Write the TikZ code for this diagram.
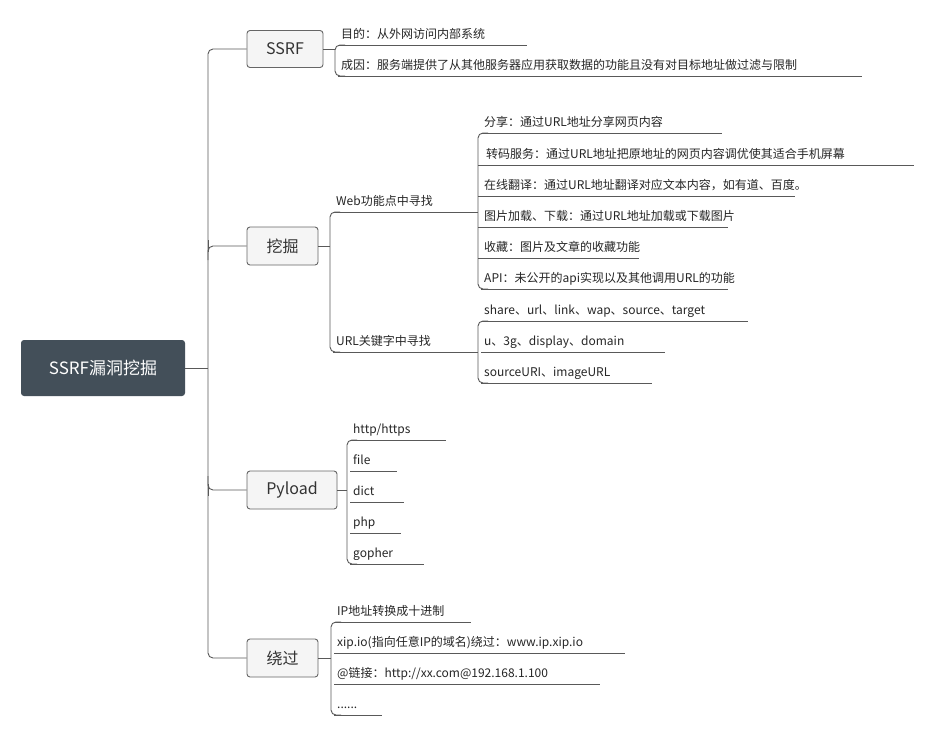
\documentclass[tikz,border=0pt]{standalone}
\usepackage{fontspec}
\setmainfont{Noto Sans CJK SC}
\begin{document}
\begin{tikzpicture}[x=1pt,y=-1pt,
  ln/.style={draw=black!65,line width=0.9pt},
  br/.style={ln,rounded corners=5pt},
  lvone/.style={draw=black!60,fill=black!4,rounded corners=3pt,line width=0.9pt,inner sep=0pt,font=\fontsize{16}{18}\selectfont,text=black!80},
  leaf/.style={anchor=base west,inner sep=0pt,font=\fontsize{12}{14}\selectfont,text=black!85}]
\useasboundingbox[fill=white] (0,0) rectangle (929,737);
% root
\node[fill=black!10!blue!8!black!75,fill={rgb,255:red,67;green,79;blue,89},rounded corners=3pt,minimum width=164pt,minimum height=56pt,text=white,font=\fontsize{17}{20}\selectfont] (root) at (103,368) {SSRF漏洞挖掘};
% level 1
\node[lvone,minimum width=76pt,minimum height=37pt] (ssrf) at (285,49) {SSRF};
\node[lvone,minimum width=71pt,minimum height=38pt] (wj) at (282.5,246) {挖掘};
\node[lvone,minimum width=90pt,minimum height=38pt] (py) at (292,490) {Pyload};
\node[lvone,minimum width=71pt,minimum height=38pt] (rg) at (282.5,658) {绕过};
\coordinate (t1) at (208,49); \coordinate (t4) at (208,658);
\draw[ln] (root.east) -- (208,368);
\draw[br] (ssrf.west) -- (t1) -- (t4) -- (rg.west);
\draw[br] (wj.west) -- (208,246) -- (208,260);
\draw[br] (py.west) -- (208,490) -- (208,476);
\draw[ln] (208,240) -- (208,252);
\draw[ln] (208,484) -- (208,496);
% leaf macro
\newcommand{\lf}[5]{\node[leaf] (#1) at (#2+6,#3-7) {#5}; \draw[ln] (#2+3,#3) -- (#4,#3);}
% SSRF children
\draw[br] (ssrf.east) -- (335,49);
\draw[br] (345,45) -- (335,45) -- (335,76) -- (345,76);
\lf{s1}{335}{45}{527}{目的：从外网访问内部系统}
\lf{s2}{335}{76}{862}{成因：服务端提供了从其他服务器应用获取数据的功能且没有对目标地址做过滤与限制}
% 挖掘 children
\draw[ln] (wj.east) -- (330,246);
\draw[br] (340,212) -- (330,212) -- (330,352) -- (340,352);
\lf{web}{330}{212}{478}{Web功能点中寻找}
\lf{url}{330}{352}{478}{URL关键字中寻找}
\draw[br] (488,133) -- (478,133) -- (478,289) -- (488,289);
\foreach \yy in {165,196,227,258}{\draw[br] (488,\yy) -- (478,\yy);}
\lf{w1}{478}{133}{722}{分享：通过URL地址分享网页内容}
\lf{w2}{478}{165}{914}{\,转码服务：通过URL地址把原地址的网页内容调优使其适合手机屏幕}
\lf{w3}{478}{196}{795}{在线翻译：通过URL地址翻译对应文本内容，如有道、百度。}
\lf{w4}{478}{227}{728}{图片加载、下载：通过URL地址加载或下载图片}
\lf{w5}{478}{258}{639}{收藏：图片及文章的收藏功能}
\lf{w6}{478}{289}{728}{API：未公开的api实现以及其他调用URL的功能}
\draw[br] (488,321) -- (478,321) -- (478,383) -- (488,383);
\lf{u1}{478}{321}{748}{share、url、link、wap、source、target}
\lf{u2}{478}{352}{665}{u、3g、display、domain}
\lf{u3}{478}{383}{652}{sourceURI、imageURL}
% Pyload children
\draw[ln] (py.east) -- (347,490);
\draw[br] (357,440) -- (347,440) -- (347,564) -- (357,564);
\lf{p1}{347}{440}{446}{http/https}
\lf{p2}{347}{471}{397}{file}
\lf{p3}{347}{502}{404}{dict}
\lf{p4}{347}{533}{401}{php}
\lf{p5}{347}{564}{424}{gopher}
% 绕过 children
\draw[ln] (rg.east) -- (331,658);
\draw[br] (341,622) -- (331,622) -- (331,715) -- (341,715);
\lf{r1}{331}{622}{471}{IP地址转换成十进制}
\lf{r2}{331}{653}{625}{xip.io(指向任意IP的域名)绕过：www.ip.xip.io}
\lf{r3}{331}{684}{600}{@链接：http://xx.com@192.168.1.100}
\lf{r4}{331}{715}{382}{......}
\end{tikzpicture}
\end{document}
